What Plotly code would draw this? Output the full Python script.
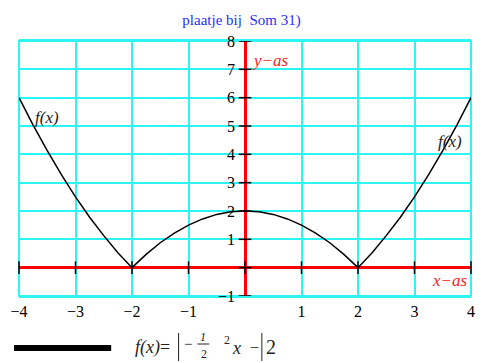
import plotly.graph_objects as go

# curve values
x_vals = [-4, -3.75, -3.5, -3.25, -3, -2.75, -2.5, -2.25, -2, -1.75, -1.5, -1.25, -1, -0.75, -0.5, -0.25, 0,
          0.25, 0.5, 0.75, 1, 1.25, 1.5, 1.75, 2, 2.25, 2.5, 2.75, 3, 3.25, 3.5, 3.75, 4]
y_vals = [6, 5.03, 4.13, 3.28, 2.5, 1.78, 1.13, 0.53, 0, 0.47, 0.88, 1.22, 1.5, 1.72, 1.88, 1.97, 2,
          1.97, 1.88, 1.72, 1.5, 1.22, 0.88, 0.47, 0, 0.53, 1.13, 1.78, 2.5, 3.28, 4.13, 5.03, 6]

x_ticks = [-4, -3, -2, -1, 0, 1, 2, 3, 4]
x_tick_text = ["\u22124", "\u22123", "\u22122", "\u22121", "", "1", "2", "3", "4"]
y_ticks = [-1, 0, 1, 2, 3, 4, 5, 6, 7, 8]
y_tick_text = ["\u22121", "", "1", "2", "3", "4", "5", "6", "7", "8"]

title = "plaatje bij  Som 31)"

W, H = 483, 363
L, R, T, B = 19, 8, 41, 67
pw, ph = W - L - R, H - T - B

def px(xp):
    return (xp - L) / pw

def py(yp):
    return (H - B - yp) / ph

fig = go.Figure()

fig.add_trace(go.Scatter(x=x_vals, y=y_vals, mode="lines",
                         line=dict(color="black", width=1.5), showlegend=False, hoverinfo="skip"))

# tick crosses along the red axes
fig.add_trace(go.Scatter(x=[0] * len(y_ticks), y=y_ticks, mode="markers",
                         marker=dict(symbol="line-ew", size=9, line=dict(color="black", width=1.5)),
                         showlegend=False, hoverinfo="skip", cliponaxis=False))
fig.add_trace(go.Scatter(x=x_ticks, y=[0] * len(x_ticks), mode="markers",
                         marker=dict(symbol="line-ns", size=9, line=dict(color="black", width=1.5)),
                         showlegend=False, hoverinfo="skip", cliponaxis=False))

serif = "Liberation Serif"
cyan = "#2ef5f5"

fig.update_layout(
    width=W, height=H,
    margin=dict(l=L, r=R, t=T, b=B),
    paper_bgcolor="white", plot_bgcolor="white",
    font=dict(family=serif, size=16, color="black"),
    title=dict(text=title, x=px(247), xanchor="center", y=1 - 20 / H, yanchor="middle",
               font=dict(family=serif, size=15, color="#2b2bff")),
    xaxis=dict(range=[-4, 4], tickvals=x_ticks, ticktext=x_tick_text, showgrid=True,
               gridcolor=cyan, gridwidth=2, zeroline=True, zerolinecolor="#ff0000",
               zerolinewidth=2.5, showline=True, linecolor=cyan, linewidth=2, mirror=True,
               ticks="", fixedrange=True, tickfont=dict(family=serif, size=16)),
    yaxis=dict(range=[-1, 8], tickvals=y_ticks, showticklabels=False,
               showgrid=True, gridcolor=cyan, gridwidth=2, zeroline=True, zerolinecolor="#ff0000",
               zerolinewidth=2.5, showline=False, ticks="", fixedrange=True),
    showlegend=False,
)

fig.add_shape(type="rect", xref="paper", yref="paper", x0=0, y0=0, x1=1, y1=1,
              line=dict(color=cyan, width=2), layer="below")

ann = []
def a(x, y, text, size=16, color="#222", xanchor="center", xref="paper", yref="paper", xshift=0):
    ann.append(dict(x=x, y=y, xref=xref, yref=yref, text=text, showarrow=False, xshift=xshift,
                    xanchor=xanchor, yanchor="middle", font=dict(family=serif, size=size, color=color)))

# y tick labels beside the vertical axis
for v, t in zip(y_ticks, y_tick_text):
    if t:
        a(0, v, t, size=16, color="black", xanchor="right", xref="x", yref="y", xshift=-8)

a(0.08, 7.3, "<i>y\u2212as</i>", size=17, color="#ff2020", xanchor="left", xref="x", yref="y")
a(3.98, -0.45, "<i>x\u2212as</i>", size=17, color="#ff2020", xanchor="right", xref="x", yref="y")
a(-3.75, 5.3, "<i>f(x)</i>", size=17, xanchor="left", xref="x", yref="y")
a(3.38, 4.45, "<i>f(x)</i>", size=17, xanchor="left", xref="x", yref="y")

# legend formula
a(px(134), py(347), "<i>f(x)</i>=", size=18, xanchor="left")
a(px(189), py(344), "\u2212", size=15)
a(px(205), py(337), "<i>1</i>", size=12)
a(px(206), py(354), "2", size=12)
a(px(229), py(340), "2", size=12)
a(px(238), py(348), "<i>x</i>", size=18)
a(px(257), py(347), "\u2212", size=16)
a(px(266), py(347), "2", size=20, xanchor="left")
fig.update_layout(annotations=ann)

fig.add_shape(type="line", xref="paper", yref="paper", x0=px(14), x1=px(112), y0=py(348), y1=py(348),
              line=dict(color="black", width=6))
fig.add_shape(type="line", xref="paper", yref="paper", x0=px(180), x1=px(180), y0=py(333), y1=py(361),
              line=dict(color="#222", width=1))
fig.add_shape(type="line", xref="paper", yref="paper", x0=px(264), x1=px(264), y0=py(333), y1=py(361),
              line=dict(color="#222", width=1))
fig.add_shape(type="line", xref="paper", yref="paper", x0=px(199), x1=px(211), y0=py(344), y1=py(344),
              line=dict(color="#222", width=1))

fig.write_html("out.html", config={"displayModeBar": False},
               post_script="document.body.style.margin='0';document.body.style.overflow='hidden';")
